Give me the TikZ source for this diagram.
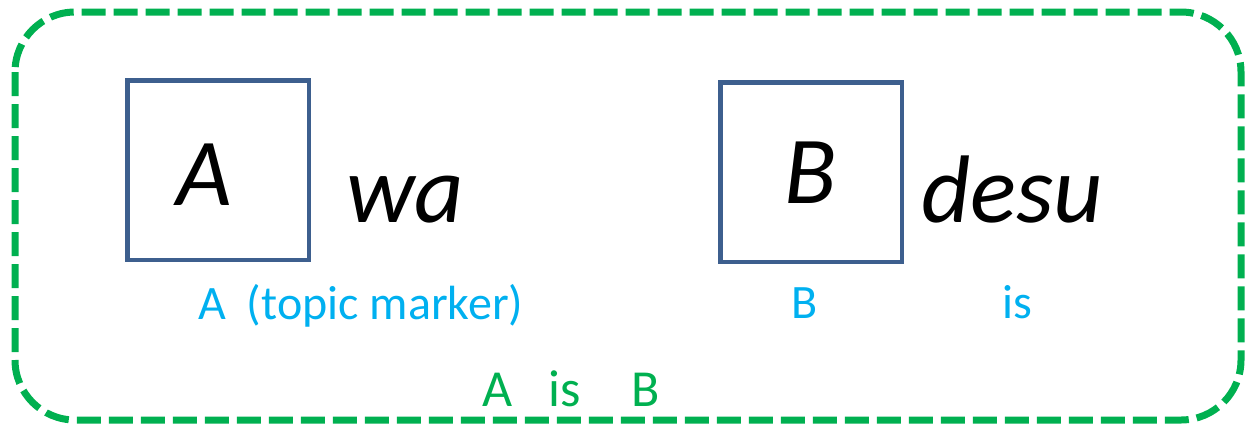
\documentclass[tikz,border=0pt]{standalone}
\usepackage{fontspec}
\setmainfont{Carlito}
\definecolor{framegreen}{HTML}{00B050}
\definecolor{lblue}{HTML}{00B0F0}
\definecolor{boxblue}{HTML}{3D5F8E}
\begin{document}
\begin{tikzpicture}[x=1pt,y=-1pt,
  frame/.style={draw=framegreen, line width=7pt, dash pattern=on 24pt off 8pt, rounded corners=60pt},
  slot/.style={draw=boxblue, line width=4.5pt, minimum width=181.5pt, minimum height=179.5pt, inner sep=0pt},
  big/.style={font=\fontsize{96}{110}\selectfont\itshape, inner sep=0pt, anchor=base west},
  gloss/.style={text=lblue, font=\fontsize{48}{56}\selectfont, inner sep=0pt, anchor=base west},
  trans/.style={text=framegreen, font=\fontsize{52}{60}\selectfont, inner sep=0pt, anchor=base west}]
\useasboundingbox (0,0) rectangle (1245,424);
\draw[frame] (15,12) rectangle (1241,420);
\node[slot] (boxA) at (218,170) {};
\node[slot] (boxB) at (811,172) {};
\node[big] (lA) at (176,205) {A};
\node[big] (wa) at (346,222) {wa};
\node[big] (lB) at (784,203) {B};
\node[big] (desu) at (921,222) {desu};
\node[gloss] (gA) at (198,319) {A\hspace{21pt}(topic marker)};
\node[gloss] (gB) at (791,318) {B};
\node[gloss] (gis) at (1002,318) {is};
\node[trans] (tA) at (482,406) {A};
\node[trans] (tis) at (548,406) {is};
\node[trans] (tB) at (631,406) {B};
\end{tikzpicture}
\end{document}
